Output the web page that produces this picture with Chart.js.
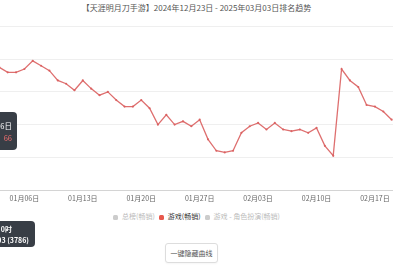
<!DOCTYPE html>
<html><head><meta charset="utf-8">
<script src="https://cdn.jsdelivr.net/npm/chart.js@4.4.1/dist/chart.umd.min.js"></script>
<style>
html,body{margin:0;padding:0;background:#fff;width:393px;height:267px;overflow:hidden;position:relative;font-family:"Noto Sans CJK SC","Noto Sans",sans-serif;}
#title{position:absolute;left:0;top:2px;width:393px;text-align:center;font-size:8px;line-height:12px;color:#555;white-space:nowrap;}
#wrap{position:absolute;left:-9px;top:20px;width:409px;height:190px;}
#legend{position:absolute;top:211px;left:0;width:393px;text-align:center;font-size:7px;line-height:10px;white-space:nowrap;}
#legend span.item{display:inline-block;margin:0 2px;}
#legend i{display:inline-block;width:5px;height:5px;border-radius:1.5px;margin-right:4px;vertical-align:-0.5px;}
#btn{position:absolute;left:165px;top:243px;width:51px;height:18px;border:1px solid #ddd;border-radius:3px;font-size:7px;line-height:18px;text-align:center;color:#555;background:#fff;box-shadow:0 1px 2px rgba(0,0,0,0.04);}
.tip{position:absolute;background:rgba(45,52,60,0.95);border-radius:4px;color:#fff;text-align:right;white-space:nowrap;box-sizing:border-box;}
#tip1{right:376px;top:112px;height:38px;padding:8px 5px 0 0;line-height:12px;font-size:7.5px;}
#tip2{right:358px;top:221px;height:26px;padding:3px 6px 0 0;line-height:11px;font-size:7px;font-weight:bold;}
#tip2 .l1{padding-right:17px;}
</style></head>
<body>
<div id="title">【天涯明月刀手游】2024年12月23日 - 2025年03月03日排名趋势</div>
<div id="wrap"><canvas id="c"></canvas></div>
<div id="legend"></div>
<div id="btn">一键隐藏曲线</div>
<div class="tip" id="tip1"><div>2025年01月06日</div><div style="color:#f07070">游戏(畅销)：66</div></div>
<div class="tip" id="tip2"><div class="l1">更新于每日0时</div><div>2025-03-03 (3786)</div></div>
<script>
const dates = ['01月02日','01月03日','01月04日','01月05日','01月06日','01月07日','01月08日','01月09日','01月10日','01月11日','01月12日','01月13日','01月14日','01月15日','01月16日','01月17日','01月18日','01月19日','01月20日','01月21日','01月22日','01月23日','01月24日','01月25日','01月26日','01月27日','01月28日','01月29日','01月30日','01月31日','02月01日','02月02日','02月03日','02月04日','02月05日','02月06日','02月07日','02月08日','02月09日','02月10日','02月11日','02月12日','02月13日','02月14日','02月15日','02月16日','02月17日','02月18日','02月19日','02月20日'];
const tickLabels = ['01月06日','01月13日','01月20日','01月27日','02月03日','02月10日','02月17日'];
const seriesNames = ['总榜(畅销)','游戏(畅销)','游戏 - 角色扮演(畅销)'];
const seriesHidden = [true,false,true];
const seriesColors = ['#cccccc','#e8584c','#cccccc'];
const gameRank = [null,65,68,68,66,61,64,67,73,75,79,73,78,82,80,85,89,89,85,90,100,94,100,98,101,97,109,116,117,116,105,101,99,103,99,103,104,103,105,102,113,119,66,73,77,88,89,92,97,null];
const totalRank = [];
const rpgRank = [];
const yMin = 40, yMax = 140, yStep = 20;

const lg = document.getElementById('legend');
seriesNames.forEach((n,k)=>{
  const s=document.createElement('span');s.className='item';
  s.innerHTML='<i style="background:'+seriesColors[k]+'"></i>'+n;
  s.style.color=seriesHidden[k]?'#bbb':'#333';
  lg.appendChild(s);
});

new Chart(document.getElementById('c'),{
  type:'line',
  data:{labels:dates,datasets:[
    {label:seriesNames[0],data:totalRank,hidden:true,borderColor:'#999'},
    {label:seriesNames[1],data:gameRank,borderColor:'rgba(218,95,95,0.9)',backgroundColor:'rgba(218,95,95,0.9)',borderWidth:1.3,pointRadius:1.1,pointBorderWidth:0,tension:0,spanGaps:false},
    {label:seriesNames[2],data:rpgRank,hidden:true,borderColor:'#999'}
  ]},
  options:{
    responsive:true,maintainAspectRatio:false,animation:false,
    layout:{autoPadding:false,padding:{top:6.5,left:0,right:0,bottom:0}},
    plugins:{legend:{display:false},tooltip:{enabled:false},title:{display:false}},
    scales:{
      x:{grid:{display:false,drawTicks:false},border:{display:true,color:'#d4d4d4',width:1},
         ticks:{autoSkip:false,maxRotation:0,minRotation:0,padding:4,color:'#666',font:{size:7,family:'"Noto Sans CJK SC"'},
           callback:function(v,i){const l=this.getLabelForValue(v);return tickLabels.includes(l)?l:'';}},
         afterFit:s=>{s.height=20;s.paddingLeft=0;s.paddingRight=0;}},
      y:{reverse:true,min:yMin,max:yMax,ticks:{display:false,stepSize:yStep},grid:{color:'#efefef',drawTicks:false,lineWidth:1},border:{display:false},
         afterFit:s=>{s.width=0;}}
    }
  }
});
</script>
</body></html>
